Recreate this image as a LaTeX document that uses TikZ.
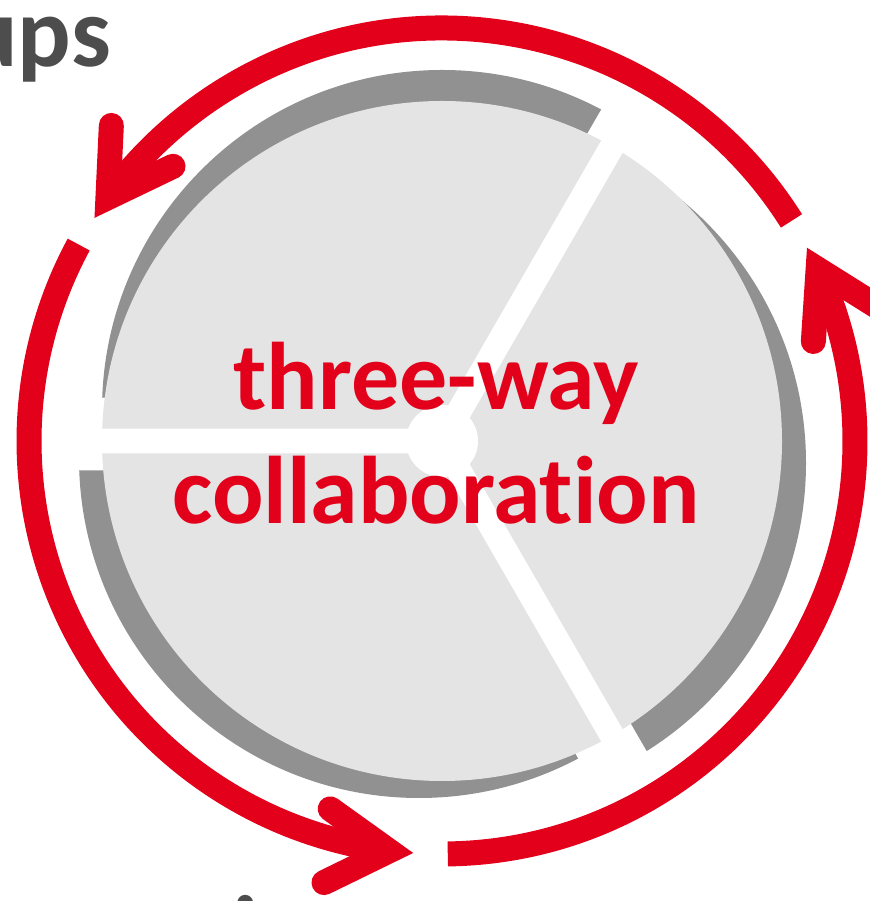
\documentclass[tikz,border=0pt]{standalone}
\usepackage{fontspec}
\setmainfont{Carlito}[Ligatures=NoCommon]
\usetikzlibrary{arrows.meta,bending}

\definecolor{cyclered}{RGB}{226,0,26}
\definecolor{pielight}{RGB}{228,228,228}
\definecolor{pieshadow}{RGB}{145,145,145}
\definecolor{headgrey}{RGB}{77,77,77}

\tikzstyle{ring} = [draw=cyclered, line width=25pt]
\tikzstyle{ringarrow} = [ring, -{Straight Barb[length=62pt, width=74pt, line cap=round, line join=miter]}]
\tikzstyle{slogan} = [text=cyclered, font=\fontsize{96}{115}\selectfont\bfseries, inner sep=0pt, anchor=base]
\tikzstyle{heading} = [text=headgrey, font=\fontsize{100}{120}\selectfont\bfseries, inner sep=0pt]

% one slice of the pie: start angle, colour, offset
\newcommand{\pieslice}[3]{%
  \begin{scope}[shift={#3}]
    \clip (#1+60:14.4) -- ++(#1:500) arc[start angle=#1, end angle=#1+120, radius=500] -- cycle;
    \fill[#2] (0,0) circle[radius=340];
  \end{scope}}

\begin{document}
\begin{tikzpicture}[x=1pt, y=1pt]
  \useasboundingbox (0,0) rectangle (869,901);

  \begin{scope}[shift={(442,460)}]
    % shadows
    \pieslice{60}{pieshadow}{(0,31)}
    \pieslice{180}{pieshadow}{(-23,-17)}
    \pieslice{300}{pieshadow}{(24,-22)}
    % slices
    \pieslice{60}{pielight}{(0,0)}
    \pieslice{180}{pielight}{(0,0)}
    \pieslice{300}{pielight}{(0,0)}
    \fill[white] (0,0) circle[radius=36];

    % the cycle
    \draw[ringarrow] (32.2:413) arc[start angle=32.2, end angle=147.3, radius=413];
    \draw[ringarrow] (151.6:413) arc[start angle=151.6, end angle=266, radius=413];
    \draw[ringarrow] (270.8:413) arc[start angle=270.8, end angle=387.9, radius=413];
  \end{scope}

  \node[slogan] (three) at (436,491) {three-way};
  \node[slogan] (collab) at (436,377) {collaboration};

  \node[heading, anchor=base east] (groups) at (111,834) {ups};
  \node[heading, anchor=base] (below) at (246,-64) {i};
\end{tikzpicture}
\end{document}
